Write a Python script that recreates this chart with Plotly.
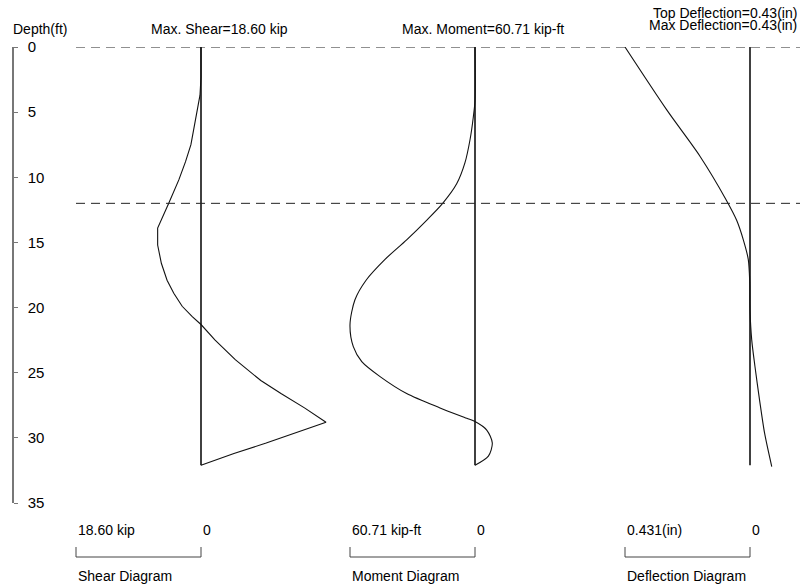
import plotly.graph_objects as go

# ---------------- data ----------------
depth_ticks = [0, 5, 10, 15, 20, 25, 30, 35]

pile_depth = [0, 32.1]          # zero reference line extent (ft)
dashed_depths = [0, 12]         # horizontal dashed lines (ft)

shear_depth = [0, 2.3, 3.7, 5, 6.3, 7.5, 8.8, 10.2, 12, 13.9, 15.2, 16.6, 17.9, 18.9,
               19.9, 20.7, 21.3, 22.5, 24, 25.6, 26.6, 27.7, 28.8, 30.4, 31.2, 32.1]
shear_val = [0, 0, 0.15, 0.6, 1.0, 1.5, 2.3, 3.3, 4.8, 6.45, 6.45, 5.9, 5.05, 4.05,
             2.8, 1.3, 0, -2.1, -5.1, -8.9, -11.9, -15.4, -18.6, -9.7, -4.9, 0]

moment_depth = [0, 4.1, 5.35, 7.1, 8.9, 10.5, 12, 13.3, 14.8, 16.3, 17.9, 19.4, 21.3,
                23.0, 24.15, 25.3, 26.6, 27.7, 28.5, 28.75, 29.4, 30.4, 31.4, 32.1]
moment_val = [0, 0, 0.8, 2.4, 4.9, 8.9, 15.7, 23.5, 33.2, 43.7, 52.9, 58.3, 60.71,
              59.1, 55.0, 46.1, 33.2, 17.0, 4.0, 0, -5.7, -8.4, -6.5, 0]

defl_depth = [0, 4.83, 8.4, 11.7, 13.3, 14.8, 16.3, 18, 20.2, 22.5, 24.5, 27.1, 29.6, 32.2]
defl_val = [0.431, 0.287, 0.172, 0.083, 0.046, 0.023, 0.006, 0.001, 0, -0.006,
            -0.017, -0.033, -0.05, -0.075]

shear_max = 18.60
moment_max = 60.71
defl_max = 0.431

top_labels = ["Max. Shear=18.60 kip", "Max. Moment=60.71 kip-ft",
              "Top Deflection=0.43(in)", "Max Deflection=0.43(in)"]
scale_labels = ["18.60 kip", "60.71 kip-ft", "0.431(in)"]
diagram_names = ["Shear Diagram", "Moment Diagram", "Deflection Diagram"]

# ---------------- layout constants ----------------
W, H = 800, 586
FONT = "Liberation Sans, Arial, sans-serif"
SCALE_PX = 125.0
zero_px = [201, 475, 750]
maxes = [shear_max, moment_max, defl_max]
y_top_px, y_bot_px = 47, 503


def px2x(px):
    return px / W


def px2y(py):
    return (H - py) / H


def xrange_for(z, m):
    u = m / SCALE_PX
    return [z * u, -(W - z) * u]


fig = go.Figure()
axes = ["x", "x2", "x3"]
series = [(shear_depth, shear_val, "linear"),
          (moment_depth, moment_val, "spline"),
          (defl_depth, defl_val, "spline")]

for ax, (d, v, shp) in zip(axes, series):
    # zero reference line
    fig.add_trace(go.Scatter(x=[0, 0], y=pile_depth, mode="lines", xaxis=ax, yaxis="y",
                             line=dict(color="#111", width=1.6), showlegend=False,
                             hoverinfo="skip"))
    fig.add_trace(go.Scatter(x=v, y=d, mode="lines", xaxis=ax, yaxis="y",
                             line=dict(color="#111", width=1.1, shape=shp, smoothing=0.8),
                             showlegend=False))

layout_axes = {}
for i, ax in enumerate(axes):
    key = "xaxis" if i == 0 else f"xaxis{i+1}"
    cfg = dict(range=xrange_for(zero_px[i], maxes[i]), domain=[0, 1], visible=False,
               showgrid=False, zeroline=False, anchor="y", automargin=False)
    if i > 0:
        cfg["overlaying"] = "x"
    layout_axes[key] = cfg

fig.update_layout(
    width=W, height=H,
    margin=dict(l=0, r=0, t=0, b=0),
    paper_bgcolor="white", plot_bgcolor="white",
    font=dict(family=FONT, size=14, color="black"),
    yaxis=dict(range=[35, 0], domain=[px2y(y_bot_px), px2y(y_top_px)],
               anchor="free", position=px2x(13), side="right",
               tickvals=depth_ticks, ticks="outside", ticklen=4, tickwidth=1,
               tickcolor="#777", showline=True, linecolor="#777", linewidth=1.5,
               showgrid=False, zeroline=False, automargin=False,
               ticklabelstandoff=7, tickfont=dict(size=15, family=FONT, color="black")),
    **layout_axes,
)

shapes = []
# dashed horizontal lines
for dd in dashed_depths:
    shapes.append(dict(type="line", xref="x", yref="y", x0=shear_max,
                       x1=xrange_for(zero_px[0], shear_max)[1], y0=dd, y1=dd,
                       line=dict(color="#222", width=1, dash="9px,6px")))
# bottom scale brackets
for ax, m in zip(axes, maxes):
    yb, yt = px2y(557), px2y(547)
    for x0, y0, x1, y1 in [(m, yt, m, yb), (m, yb, 0, yb), (0, yb, 0, yt)]:
        shapes.append(dict(type="line", xref=ax, yref="paper", x0=x0, x1=x1, y0=y0, y1=y1,
                           line=dict(color="#444", width=1)))
fig.update_layout(shapes=shapes)

ann = []
ann.append(dict(text="Depth(ft)", xref="paper", yref="paper", x=px2x(11), y=px2y(29),
                xanchor="left", yanchor="middle", showarrow=False))
ann.append(dict(text=top_labels[0], xref="paper", yref="paper", x=px2x(219), y=px2y(29),
                xanchor="center", yanchor="middle", showarrow=False))
ann.append(dict(text=top_labels[1], xref="paper", yref="paper", x=px2x(482.5), y=px2y(29),
                xanchor="center", yanchor="middle", showarrow=False))
ann.append(dict(text=top_labels[2], xref="paper", yref="paper", x=px2x(799), y=px2y(12.5),
                xanchor="right", yanchor="middle", showarrow=False))
ann.append(dict(text=top_labels[3], xref="paper", yref="paper", x=px2x(799), y=px2y(24.5),
                xanchor="right", yanchor="middle", showarrow=False))
for ax, m, sl, dn in zip(axes, maxes, scale_labels, diagram_names):
    ann.append(dict(text=sl, xref=ax, yref="paper", x=m, y=px2y(530),
                    xanchor="left", yanchor="middle", showarrow=False))
    ann.append(dict(text="0", xref=ax, yref="paper", x=0, y=px2y(530),
                    xanchor="left", yanchor="middle", showarrow=False))
    ann.append(dict(text=dn, xref=ax, yref="paper", x=m, y=px2y(576),
                    xanchor="left", yanchor="middle", showarrow=False))
fig.update_layout(annotations=ann)

fig.write_html("out.html", config={"displayModeBar": False},
               post_script="document.body.style.margin='0px';document.body.style.overflow='hidden';")
